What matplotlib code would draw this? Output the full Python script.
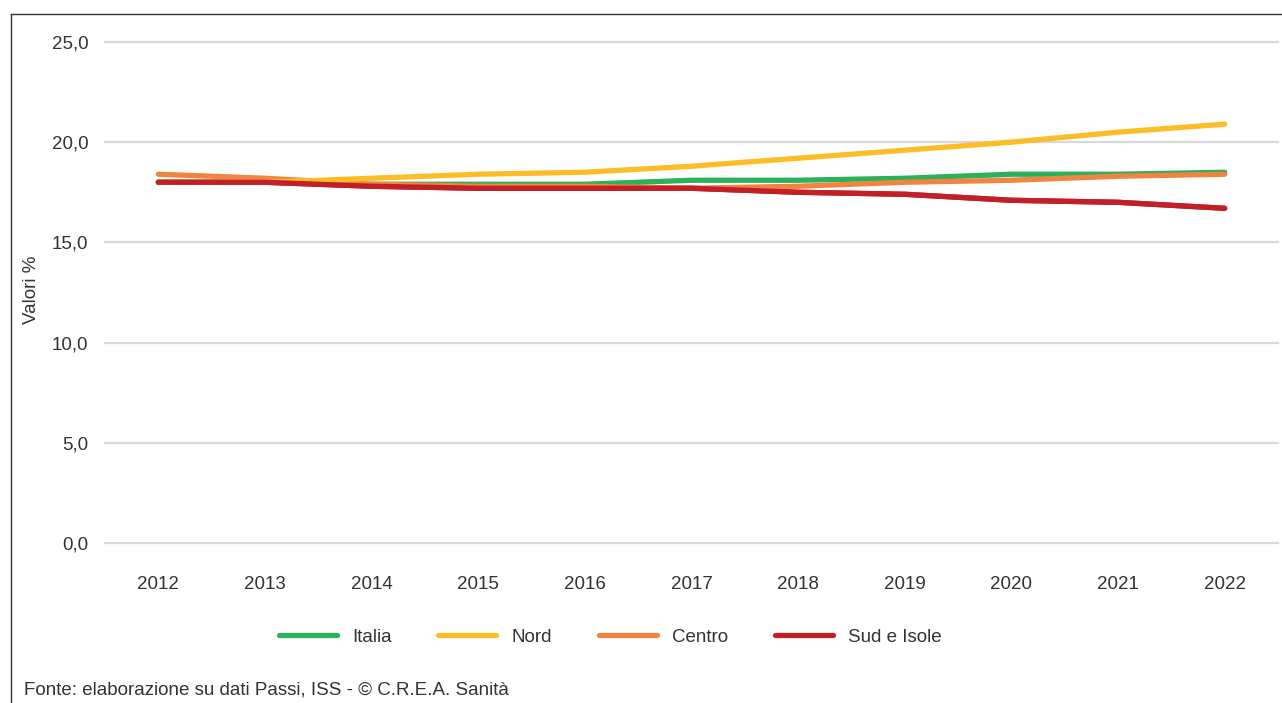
import numpy as np
import matplotlib
matplotlib.use('Agg')
import matplotlib.pyplot as plt
from matplotlib.lines import Line2D

plt.rcParams['font.family'] = ['Liberation Sans', 'DejaVu Sans']

years = ['2012', '2013', '2014', '2015', '2016', '2017', '2018', '2019', '2020', '2021', '2022']
italia = [18.0, 18.0, 17.9, 17.9, 17.9, 18.1, 18.1, 18.2, 18.4, 18.4, 18.5]
nord = [18.0, 18.0, 18.2, 18.4, 18.5, 18.8, 19.2, 19.6, 20.0, 20.5, 20.9]
centro = [18.4, 18.2, 17.9, 17.8, 17.8, 17.7, 17.8, 18.0, 18.1, 18.3, 18.4]
sud = [18.0, 18.0, 17.8, 17.7, 17.7, 17.7, 17.5, 17.4, 17.1, 17.0, 16.7]

series = [('Italia', italia, '#2bb05c'),
          ('Nord', nord, '#fdbd26'),
          ('Centro', centro, '#f08441'),
          ('Sud e Isole', sud, '#c21f26')]

txt = '#333333'
fs = 13.5
fig = plt.figure(figsize=(12.82, 7.03), dpi=100)
ax = fig.add_axes([0.0819, 0.2276, 0.915, 0.7127])

x = np.arange(len(years))
for name, vals, col in [series[3], series[0], series[2], series[1]]:
    ax.plot(x, vals, color=col, lw=3.8, solid_capstyle='round', solid_joinstyle='round', zorder=3)
# red sits on top of the others at the left end
ax.plot(x, sud, color='#c21f26', lw=3.8, solid_capstyle='round', zorder=3)

ax.set_xlim(-0.5, len(years) - 0.5)
ax.set_ylim(0, 25)
ax.set_yticks(np.arange(0, 26, 5))
ax.set_yticklabels([f'{v:.1f}'.replace('.', ',') for v in np.arange(0, 26, 5)])
ax.set_xticks(x)
ax.set_xticklabels(years)
ax.tick_params(length=0, labelsize=fs, colors=txt)
ax.tick_params(axis='x', pad=24)
ax.tick_params(axis='y', pad=12)
ax.grid(axis='y', color='#d9d9d9', lw=1.6)
for gl in ax.get_ygridlines():
    gl.set_clip_on(False)
ax.set_axisbelow(True)
for s in ax.spines.values():
    s.set_visible(False)
ax.set_ylabel('Valori %', fontsize=fs, color=txt)
ax.yaxis.set_label_coords(-0.0554, 0.505)

handles = [Line2D([], [], color=c, lw=3.8, solid_capstyle='round') for _, _, c in series]
fig.legend(handles, [n for n, _, _ in series], loc='center', bbox_to_anchor=(0.476, 1 - 637 / 703),
           ncol=4, frameon=False, fontsize=fs, handlelength=3.1, handletextpad=0.8,
           columnspacing=2.5, labelcolor=txt)

fig.text(24 / 1282, 1 - 690 / 703, 'Fonte: elaborazione su dati Passi, ISS - © C.R.E.A. Sanità',
         fontsize=fs, color=txt, va='center', ha='left')

# outer frame (top and left edges)
fig.add_artist(Line2D([11 / 1282, 1], [1 - 14 / 703, 1 - 14 / 703], color='#333333', lw=1, transform=fig.transFigure))
fig.add_artist(Line2D([11 / 1282, 11 / 1282], [1 - 14 / 703, 0], color='#333333', lw=1, transform=fig.transFigure))

fig.savefig('out.png', dpi=100)
